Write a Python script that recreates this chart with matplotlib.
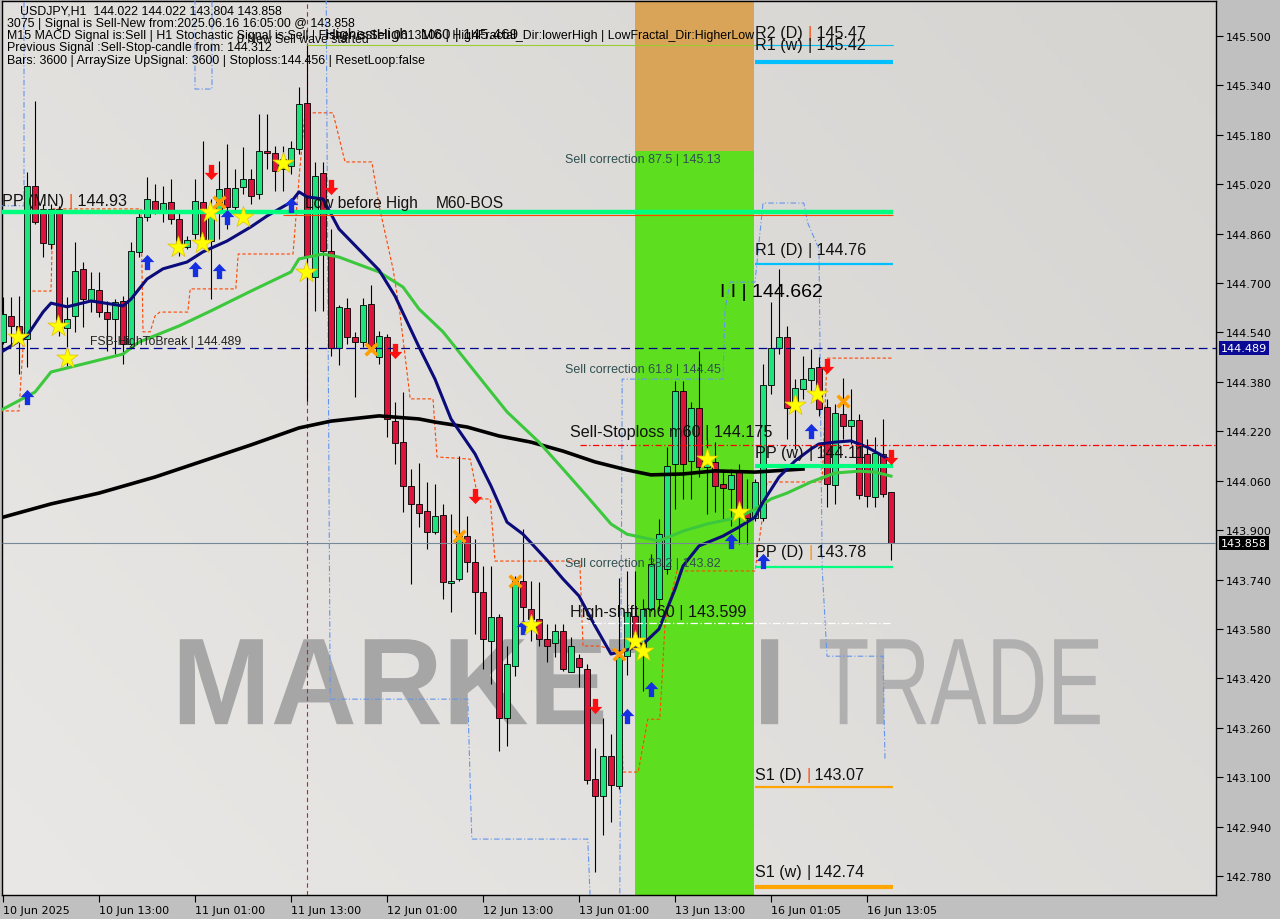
import numpy as np
import matplotlib
matplotlib.use("Agg")
import matplotlib.pyplot as plt
from matplotlib.patches import PathPatch
from matplotlib.textpath import TextPath
from matplotlib.font_manager import FontProperties
from matplotlib.transforms import Affine2D, ScaledTranslation
from matplotlib.colors import LinearSegmentedColormap

# USDJPY H1, 10 Jun 01:00 .. 16 Jun 16:00 (one bar per hour, weekend skipped)
opens = [144.509, 144.593, 144.561, 144.519, 145.014, 144.940, 144.827, 144.940, 144.555, 144.593,
         144.746, 144.645, 144.678, 144.606, 144.584, 144.642, 144.503, 144.801, 144.914, 144.966,
         144.937, 144.962, 144.907, 144.817, 144.859, 144.962, 144.836, 144.930, 145.008, 144.946,
         145.011, 145.037, 144.988, 145.128, 145.121, 145.069, 145.079, 145.134, 145.283, 144.720,
         145.056, 144.804, 144.490, 144.619, 144.525, 144.509, 144.632, 144.461, 144.525, 144.253,
         144.185, 144.043, 143.985, 143.962, 143.894, 143.949, 143.729, 143.742, 143.881, 143.797,
         143.700, 143.541, 143.619, 143.292, 143.460, 143.735, 143.645, 143.612, 143.548, 143.535,
         143.573, 143.440, 143.486, 143.450, 143.094, 143.039, 143.169, 143.072, 143.492, 143.622,
         143.509, 143.645, 143.677, 143.774, 144.114, 144.350, 144.124, 144.296, 144.104, 144.121,
         144.049, 144.033, 144.088, 143.955, 143.939, 143.939, 144.370, 144.490, 144.525, 144.296,
         144.357, 144.386, 144.428, 144.299, 144.046, 144.276, 144.237, 144.257, 144.147, 144.007,
         144.147, 144.022]
highs = [144.655, 144.655, 144.658, 145.060, 145.290, 144.956, 144.956, 144.950, 144.655, 144.833,
         144.768, 144.736, 144.736, 144.642, 144.648, 144.658, 144.833, 144.933, 145.043, 145.021,
         145.014, 145.037, 144.930, 144.852, 145.037, 145.160, 144.972, 145.095, 145.150, 145.069,
         145.141, 145.069, 145.247, 145.247, 145.144, 145.144, 145.160, 145.335, 145.469, 145.092,
         145.092, 144.875, 144.629, 144.652, 144.542, 144.652, 144.694, 144.545, 144.535, 144.315,
         144.347, 144.098, 144.117, 144.056, 144.049, 143.985, 143.952, 144.140, 143.946, 143.871,
         143.784, 143.784, 143.628, 143.525, 143.751, 143.904, 143.735, 143.732, 143.596, 143.596,
         143.596, 143.554, 143.499, 143.467, 143.195, 143.292, 143.240, 143.745, 143.768, 143.768,
         143.677, 143.823, 143.936, 144.169, 144.383, 144.383, 144.315, 144.480, 144.195, 144.185,
         144.098, 144.098, 144.114, 144.066, 144.066, 144.438, 144.639, 144.746, 144.561, 144.389,
         144.464, 144.487, 144.461, 144.325, 144.308, 144.393, 144.357, 144.276, 144.195, 144.202,
         144.260, 144.022]
lows = [144.503, 144.496, 144.406, 144.428, 144.891, 144.784, 144.810, 144.529, 144.431, 144.542,
        144.558, 144.606, 144.590, 144.480, 144.470, 144.438, 144.487, 144.784, 144.901, 144.924,
        144.898, 144.891, 144.788, 144.810, 144.843, 144.827, 144.648, 144.843, 144.875, 144.924,
        144.988, 144.956, 144.972, 145.069, 144.998, 144.998, 145.053, 145.118, 144.318, 144.610,
        144.610, 144.464, 144.435, 144.503, 144.331, 144.493, 144.487, 144.438, 144.202, 144.114,
        143.959, 143.726, 143.910, 143.839, 143.887, 143.677, 143.635, 143.735, 143.764, 143.564,
        143.450, 143.402, 143.185, 143.201, 143.428, 143.603, 143.541, 143.525, 143.473, 143.489,
        143.444, 143.440, 143.392, 143.078, 142.793, 142.913, 142.955, 143.062, 143.431, 143.515,
        143.379, 143.638, 143.645, 143.758, 143.968, 144.001, 144.001, 144.072, 143.952, 143.959,
        143.936, 143.913, 143.855, 143.855, 143.930, 143.930, 144.341, 144.470, 144.195, 144.163,
        144.325, 144.350, 144.270, 143.975, 143.985, 144.195, 144.179, 144.001, 143.975, 143.975,
        144.007, 143.804]
closes = [144.600, 144.561, 144.519, 145.014, 144.898, 144.830, 144.940, 144.558, 144.584, 144.739,
          144.648, 144.681, 144.606, 144.584, 144.639, 144.503, 144.804, 144.914, 144.972, 144.937,
          144.959, 144.907, 144.820, 144.839, 144.966, 144.843, 144.930, 145.005, 144.946, 145.008,
          145.037, 144.982, 145.128, 145.121, 145.063, 145.102, 145.137, 145.280, 144.788, 145.047,
          144.804, 144.490, 144.623, 144.525, 144.509, 144.629, 144.496, 144.529, 144.260, 144.182,
          144.043, 143.985, 143.955, 143.894, 143.946, 143.732, 143.735, 143.881, 143.797, 143.700,
          143.548, 143.619, 143.292, 143.467, 143.735, 143.651, 143.612, 143.548, 143.525, 143.573,
          143.450, 143.525, 143.457, 143.091, 143.039, 143.169, 143.075, 143.489, 143.635, 143.548,
          143.645, 143.790, 143.887, 144.108, 144.350, 144.114, 144.296, 144.104, 144.121, 144.043,
          144.036, 144.079, 143.946, 143.939, 144.056, 144.370, 144.490, 144.525, 144.296, 144.360,
          144.389, 144.425, 144.292, 144.049, 144.279, 144.237, 144.257, 144.014, 144.011, 144.150,
          144.017, 143.858]

date_ticks = [0, 12, 24, 36, 48, 60, 72, 84, 96, 108]
date_labels = ["10 Jun 2025", "10 Jun 13:00", "11 Jun 01:00", "11 Jun 13:00", "12 Jun 01:00",
               "12 Jun 13:00", "13 Jun 01:00", "13 Jun 13:00", "16 Jun 01:05", "16 Jun 13:05"]
price_ticks = [145.500, 145.340, 145.180, 145.020, 144.860, 144.700, 144.540, 144.380, 144.220,
               144.060, 143.900, 143.740, 143.580, 143.420, 143.260, 143.100, 142.940, 142.780]

# moving averages, read at sample bars
navy_bars = [0, 3, 5, 6, 8, 11, 15, 16, 18, 20, 23, 25, 28, 31, 33, 36, 37, 38, 40, 42, 47, 49, 52, 54,
             56, 59, 61, 63, 65, 68, 70, 72, 74, 76, 78, 80, 82, 84, 85, 87, 90, 92, 94, 95, 97, 99,
             101, 102, 104, 106, 108, 110, 111]
navy_vals = [144.480, 144.529, 144.606, 144.635, 144.623, 144.642, 144.626, 144.648, 144.713, 144.746,
             144.768, 144.801, 144.836, 144.882, 144.917, 144.962, 144.995, 144.979, 144.972, 144.875,
             144.742, 144.658, 144.493, 144.389, 144.260, 144.147, 144.043, 143.926, 143.887, 143.803,
             143.742, 143.687, 143.590, 143.499, 143.512, 143.531, 143.580, 143.709, 143.784, 143.849,
             143.881, 143.910, 143.942, 143.991, 144.072, 144.124, 144.163, 144.179, 144.185, 144.189,
             144.169, 144.140, 144.124]
green_bars = [0, 4, 6, 15, 17, 22, 26, 31, 36, 37, 40, 42, 45, 47, 50, 52, 55, 60, 63, 67, 70, 73, 76,
              78, 82, 85, 88, 92, 94, 96, 98, 101, 104, 107, 109, 111]
green_vals = [144.292, 144.347, 144.412, 144.470, 144.509, 144.561, 144.610, 144.674, 144.736, 144.778,
              144.794, 144.784, 144.755, 144.736, 144.687, 144.616, 144.542, 144.380, 144.283, 144.185,
              144.098, 144.010, 143.920, 143.887, 143.865, 143.897, 143.920, 143.942, 143.968, 144.001,
              144.020, 144.056, 144.085, 144.091, 144.088, 144.075]
black_bars = [0, 6, 12, 19, 25, 31, 37, 41, 47, 52, 54, 58, 62, 66, 70, 74, 78, 81, 85, 89, 94, 100]
black_vals = [143.942, 143.985, 144.020, 144.072, 144.124, 144.176, 144.231, 144.253, 144.270, 144.260,
              144.250, 144.234, 144.205, 144.185, 144.156, 144.121, 144.095, 144.079, 144.082, 144.092,
              144.088, 144.098]

# stepped channel lines
ostep_x = [-0.375, 2, 2.4, 3, 6, 6.25, 17.25, 17.5, 18.4, 19, 19.6, 23.1, 23.4, 29.1, 29.4, 36.25,
           37.1, 37.75, 41.25, 42.75, 46.1, 47.1, 48.75, 49.6, 50.9, 53.75, 54.25, 58.4, 59.4, 60.9,
           61.5, 72.1, 72.5, 74.6, 77.1, 77.5, 79.4, 80.6, 82.1, 82.75, 83.4, 84.25, 94, 94.9, 95.5,
           102.4, 103, 111.1]
ostep_y = [144.286, 144.286, 144.454, 144.674, 144.674, 144.940, 144.940, 144.542, 144.542, 144.593,
           144.606, 144.606, 144.681, 144.681, 144.794, 144.794, 145.069, 145.251, 145.251, 145.092,
           145.092, 144.940, 144.746, 144.606, 144.325, 144.325, 144.137, 144.130, 144.001, 144.001,
           143.800, 143.800, 143.525, 143.525, 143.505, 143.117, 143.117, 143.288, 143.288, 143.596,
           143.677, 143.768, 143.768, 143.936, 144.056, 144.056, 144.457, 144.457]
bstep_x = [-0.375, 2.625, 2.625, 24, 24, 26.125, 26.125, 40.4, 40.9, 58.1, 58.6, 73.1, 73.4, 77.1,
           77.4, 80.9, 90, 90.25, 90.9, 94, 95, 100.1, 100.6, 102, 102.4, 103, 110, 110.25]
bstep_y = [144.950, 144.950, 145.636, 145.636, 145.328, 145.328, 145.636, 145.636, 143.353, 143.353,
           142.900, 142.900, 142.706, 142.706, 144.389, 144.389, 144.389, 144.616, 144.703, 144.703,
           144.959, 144.959, 144.894, 144.810, 143.774, 143.492, 143.492, 143.159]

# signal markers (bar, price)
star_bars = [1.9, 6.9, 8, 21.9, 24.9, 25.9, 30, 35, 37.9, 66, 79, 80, 88, 92, 99, 101.75]
star_vals = [144.525, 144.561, 144.457, 144.817, 144.830, 144.930, 144.914, 145.089, 144.736, 143.593,
             143.541, 143.509, 144.130, 143.959, 144.305, 144.341]
up_bars = [3, 18, 24, 27, 28, 36, 65, 78, 81, 91, 95, 101]
up_vals = [144.331, 144.768, 144.746, 144.739, 144.914, 144.953, 143.586, 143.298, 143.386, 143.865,
           143.800, 144.221]
dn_bars = [26, 41, 49, 59, 74, 103, 111]
dn_vals = [145.060, 145.011, 144.480, 144.011, 143.331, 144.431, 144.137]
x_bars = [27, 46, 57, 64, 77, 105]
x_vals = [144.962, 144.487, 143.881, 143.735, 143.499, 144.318]

# pivot levels: (name, value text, price, separator colour)
pivots = [("PP (MN)", "144.93", 144.930, "#ff4500"),
          ("R2 (D)", "145.47", 145.470, "#ff4500"),
          ("R1 (w)", "145.42", 145.416, "#111111"),
          ("R1 (D)", "144.76", 144.762, "#111111"),
          ("PP (w)", "144.11", 144.108, "#111111"),
          ("PP (D)", "143.78", 143.780, "#ff8c00"),
          ("S1 (D)", "143.07", 143.070, "#ff4500"),
          ("S1 (w)", "142.74", 142.745, "#111111")]
header = ["USDJPY,H1  144.022 144.022 143.804 143.858",
          "3075 | Signal is Sell-New from:2025.06.16 16:05:00 @ 143.858",
          "M15 MACD Signal is:Sell | H1 Stochastic Signal is:Sell | Fisher is:Sell 0613106 "
          "| HighFractal_Dir:lowerHigh | LowFractal_Dir:HigherLow",
          "Previous Signal :Sell-Stop-candle from: 144.312",
          "Bars: 3600 | ArraySize UpSignal: 3600 | Stoploss:144.456 | ResetLoop:false"]

W, H = 1280, 920
fig = plt.figure(figsize=(12.8, 9.2), dpi=100, facecolor="#c0c0c0")
ax = fig.add_axes([2 / W, 24 / H, 1214 / W, 894 / H])
X0, X1 = -0.125, 151.625
Y0, Y1 = 142.719, 145.613
ax.set_xlim(X0, X1)
ax.set_ylim(Y0, Y1)

# background
gx, gy = np.meshgrid(np.linspace(0, 1, 200), np.linspace(0, 1, 200))
bgmap = LinearSegmentedColormap.from_list("bg", ["#e9e8e6", "#d6d4d1"])
ax.imshow(0.6 * gx + 0.4 * gy, extent=[X0, X1, Y0, Y1], aspect="auto", cmap=bgmap,
          origin="lower", zorder=0)


def watermark(s, xa, xb, ya, yb, weight, color):
    tp = TextPath((0, 0), s, size=1, prop=FontProperties(family="Liberation Sans", weight=weight))
    e = tp.get_extents()
    tr = Affine2D().translate(-e.x0, -e.y0).scale((xb - xa) / e.width, (yb - ya) / e.height).translate(xa, ya)
    ax.add_patch(PathPatch(tr.transform_path(tp), fc=color, ec="none", zorder=1))


watermark("MARKETZI", 22.1, 96.9, 143.272, 143.547, "bold", "#a6a6a6")
watermark("TRADE", 102.1, 137.1, 143.272, 143.547, "normal", "#b0b0b0")

# signal zone
ax.fill_between([79, 93.9], Y0, 145.128, color="#5ddf1f", lw=0, zorder=2)
ax.fill_between([79, 93.9], 145.128, Y1, color="#d9a457", lw=0, zorder=2)

ax.axvline(38, color="#dc143c", lw=0.8, ls=(0, (4, 3)), zorder=3)
ax.plot(ostep_x, ostep_y, color="#ff4500", lw=0.8, ls=(0, (3, 2)), zorder=3)
ax.plot(bstep_x, bstep_y, color="#6495ed", lw=0.8, ls=(0, (5, 2, 1, 2)), zorder=3)

# candles
idx = np.arange(len(opens))
o, h, l, c = map(np.array, (opens, highs, lows, closes))
up = c >= o
ax.vlines(idx, l, h, color="black", lw=0.8, zorder=5)
bot = np.minimum(o, c)
hgt = np.maximum(np.abs(c - o), 0.004)
ax.bar(idx[up], hgt[up], bottom=bot[up], width=0.66, color="#1fe37c", edgecolor="black", lw=0.6, zorder=6)
ax.bar(idx[~up], hgt[~up], bottom=bot[~up], width=0.66, color="#dc143c", edgecolor="black", lw=0.6, zorder=6)

ax.plot(black_bars, black_vals, color="black", lw=2.6, zorder=7)
ax.plot(green_bars, green_vals, color="#3cc83c", lw=2.2, zorder=7)
ax.plot(navy_bars, navy_vals, color="#0b0b7a", lw=2.2, zorder=7)

# level lines
ax.hlines(144.921, 35, 111.25, color="#ff4500", lw=0.8, zorder=8)
ax.hlines(145.469, 38, 111.25, color="#9acd32", lw=0.8, zorder=8)
ax.hlines(144.489, X0, X1, color="#00008b", lw=0.9, ls=(0, (7, 4)), zorder=8)
ax.hlines(144.176, 72.1, X1, color="#ff0000", lw=0.9, ls=(0, (5, 2, 1, 2)), zorder=8)
ax.hlines(143.858, X0, X1, color="#778899", lw=0.8, zorder=8)
ax.hlines(143.599, 72.1, 110.9, color="white", lw=0.9, ls=(0, (6, 2, 1, 2)), zorder=8)
ax.hlines(144.930, X0, 111.25, color="#00ff7f", lw=3.2, zorder=9)
ax.hlines(145.470, 94, 111.25, color="#00bfff", lw=0.8, zorder=9)
ax.hlines(145.416, 94, 111.25, color="#00bfff", lw=3.0, zorder=9)
ax.hlines(144.762, 94, 111.25, color="#00bfff", lw=1.6, zorder=9)
ax.hlines(144.108, 94, 111.25, color="#00ff7f", lw=3.0, zorder=9)
ax.hlines(143.780, 94, 111.25, color="#00ff7f", lw=1.6, zorder=9)
ax.hlines(143.070, 94, 111.25, color="#ffa500", lw=1.6, zorder=9)
ax.hlines(142.745, 94, 111.25, color="#ffa500", lw=3.0, zorder=9)

# markers
arrow = [(0, 1), (-0.9, 0.05), (-0.35, 0.05), (-0.35, -1), (0.35, -1), (0.35, 0.05), (0.9, 0.05), (0, 1)]
arrow_dn = [(x, -y) for x, y in arrow]
ax.scatter(up_bars, up_vals, marker=arrow, s=120, color="#1530e0", lw=0, zorder=10)
ax.scatter(dn_bars, dn_vals, marker=arrow_dn, s=120, color="#ff1010", lw=0, zorder=10)
ax.scatter(x_bars, x_vals, marker="x", s=70, color="#ff9f00", lw=2.6, zorder=10)
ax.scatter(star_bars, star_vals, marker="*", s=260, color="#ffff00", edgecolor="#e0c000", lw=0.5, zorder=11)

# texts
LF = "Liberation Sans"
pivot_pos = {"PP (MN)": (-0.1, 144.966), "R2 (D)": (94, 145.510), "R1 (w)": (94, 145.471),
             "R1 (D)": (94, 144.810), "PP (w)": (94, 144.153), "PP (D)": (94, 143.832),
             "S1 (D)": (94, 143.110), "S1 (w)": (94, 142.796)}
for name, val, _, sep in pivots:
    px, py = pivot_pos[name]
    t1 = ax.text(px, py, name + " ", fontsize=11.6, family=LF, color="#111111", va="center", ha="left", zorder=12)
    t2 = ax.annotate("|", xy=(1, 0), xycoords=t1, fontsize=11.6, family=LF, color=sep, va="bottom", ha="left", zorder=12)
    ax.annotate(" " + val, xy=(1, 0), xycoords=t2, fontsize=11.6, family=LF, color="#111111", va="bottom", ha="left", zorder=12)

small = dict(fontsize=9, family=LF, color="#2f4f4f", va="center", ha="left", zorder=12)
ax.text(70.25, 145.102, "Sell correction 87.5 | 145.13", **small)
ax.text(70.25, 144.422, "Sell correction 61.8 | 144.45", **small)
ax.text(70.25, 143.794, "Sell correction 38.2 | 143.82", **small)
mid = dict(fontsize=11.6, family=LF, color="#111111", va="center", ha="left", zorder=12)
ax.text(70.9, 144.218, "Sell-Stoploss m60 | 144.175", **mid)
ax.text(70.9, 143.638, "High-shift m60 | 143.599", **mid)
ax.text(37.75, 144.962, "Low before High", fontsize=11.2, family=LF, color="#111111", va="center", zorder=12)
ax.text(54.1, 144.962, "M60-BOS", fontsize=11.2, family=LF, color="#111111", va="center", zorder=12)
ax.text(40.25, 145.506, "HighestHigh   M60 | 145.469", fontsize=11, family=LF, color="#111111", va="center", zorder=12)
ax.text(29.25, 145.490, "0 New Sell wave started", fontsize=8.8, family=LF, color="#111111", va="center", zorder=12)
ax.text(10.9, 144.512, "FSB-HighToBreak | 144.489", fontsize=8.7, family=LF, color="#222222", va="center", zorder=12)
ax.text(89.6, 144.671, "I I | 144.662", fontsize=14, family=LF, color="black", va="center", zorder=12)

for i, line in enumerate(header):
    fig.text((20 if i == 0 else 7) / W, 1 - (11 + 12.5 * i) / H, line, fontsize=8.9, family=LF,
             color="black", va="center", ha="left")

# axes
ax.yaxis.tick_right()
ax.set_yticks(price_ticks)
ax.set_yticklabels([f"{p:.3f}" for p in price_ticks])
ax.set_xticks(date_ticks)
ax.set_xticklabels(date_labels, ha="left")
off = ScaledTranslation(3 / 100, 0, fig.dpi_scale_trans)
for lbl in ax.get_xticklabels():
    lbl.set_transform(lbl.get_transform() + off)
ax.tick_params(axis="both", direction="out", length=5, width=0.8, colors="black", labelsize=8, pad=2)
for sp in ax.spines.values():
    sp.set_color("black")
    sp.set_linewidth(1)

ytr = ax.get_yaxis_transform()
ax.text(1.004, 144.489, "144.489", transform=ytr, fontsize=8, color="white", va="center", ha="left",
        bbox=dict(boxstyle="square,pad=0.18", fc="#0a0a96", ec="none"), clip_on=False, zorder=20)
ax.text(1.004, 143.858, "143.858", transform=ytr, fontsize=8, color="white", va="center", ha="left",
        bbox=dict(boxstyle="square,pad=0.18", fc="black", ec="none"), clip_on=False, zorder=20)

fig.savefig("out.png", dpi=100, facecolor=fig.get_facecolor())
